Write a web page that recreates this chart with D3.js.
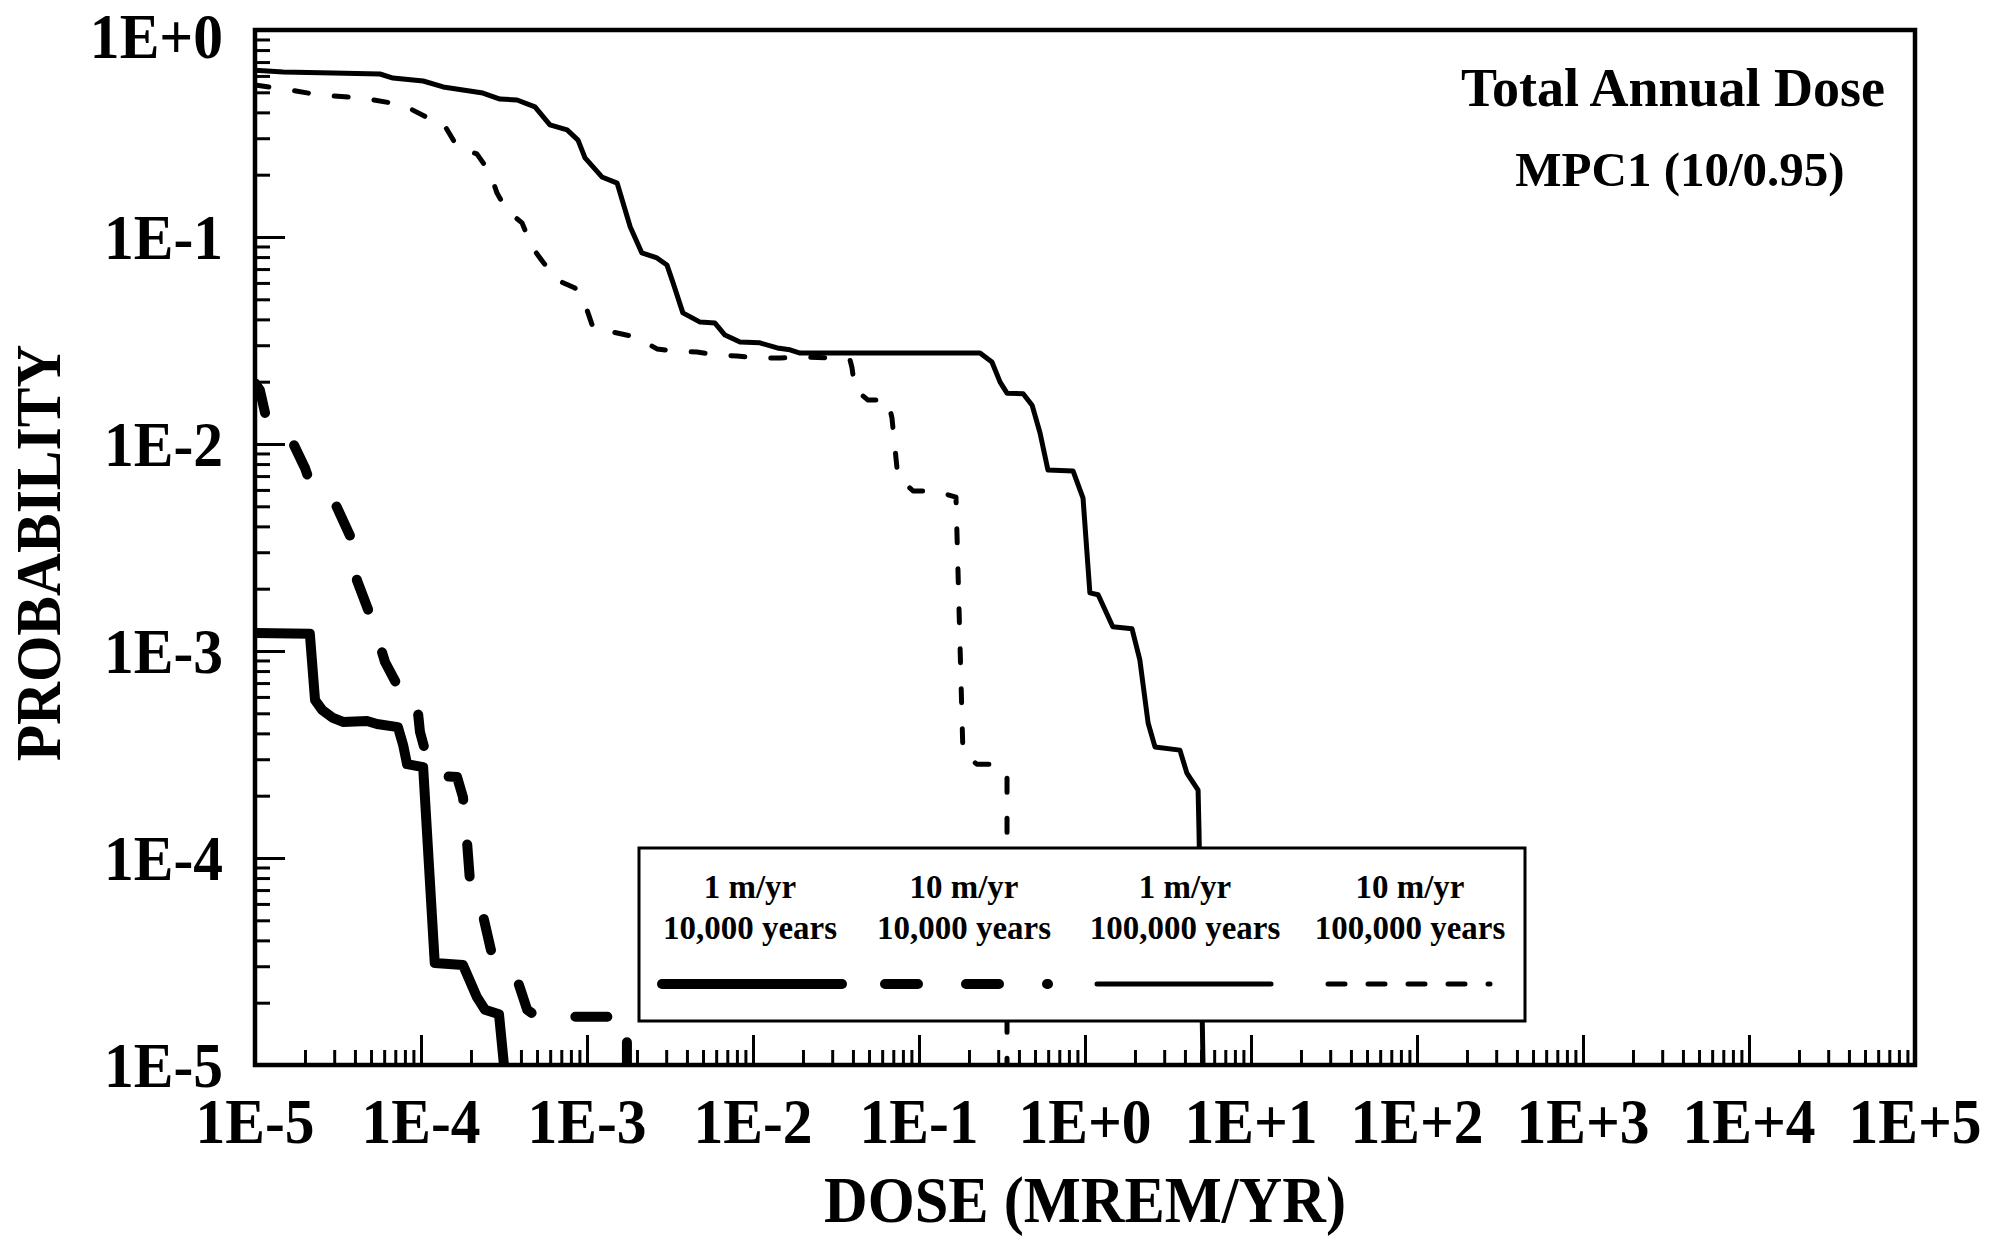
<!DOCTYPE html>
<html><head><meta charset="utf-8">
<script src="https://cdn.jsdelivr.net/npm/d3@7"></script>
<style>html,body{margin:0;padding:0;background:#fff;} svg{display:block;}</style>
</head><body>
<svg id="c" width="2007" height="1239"></svg>
<script>
// ---- data ----
const xTickValues = [1e-5, 1e-4, 1e-3, 1e-2, 1e-1, 1e0, 1e1, 1e2, 1e3, 1e4, 1e5];
const xTickLabels = ["1E-5", "1E-4", "1E-3", "1E-2", "1E-1", "1E+0", "1E+1", "1E+2", "1E+3", "1E+4", "1E+5"];
const yTickValues = [1e-5, 1e-4, 1e-3, 1e-2, 1e-1, 1e0];
const yTickLabels = ["1E-5", "1E-4", "1E-3", "1E-2", "1E-1", "1E+0"];

const seriesNames = ["1 m/yr|10,000 years", "10 m/yr|10,000 years", "1 m/yr|100,000 years", "10 m/yr|100,000 years"];

// 1 m/yr, 10,000 years (thick solid)  [dose, probability]
const thickSolid = [
  [1.0e-5, 1.22e-3], [2.14e-5, 1.21e-3], [2.30e-5, 5.79e-4], [2.54e-5, 5.19e-4], [2.95e-5, 4.75e-4],
  [3.39e-5, 4.54e-4], [4.73e-5, 4.59e-4], [5.43e-5, 4.44e-4], [7.26e-5, 4.29e-4], [7.80e-5, 3.52e-4],
  [8.24e-5, 2.84e-4], [1.03e-4, 2.75e-4], [1.21e-4, 3.11e-5], [1.79e-4, 3.04e-5], [2.17e-4, 2.13e-5],
  [2.43e-4, 1.85e-5], [2.95e-4, 1.76e-5], [3.16e-4, 1.0e-5]
];
// 10 m/yr, 10,000 years (thick dashed)
const thickDashed = [
  [1.0e-5, 0.0197], [1.07e-5, 0.0182], [1.15e-5, 0.0141], [1.28e-5, 0.0134], [1.52e-5, 0.0121],
  [2.0e-5, 0.00766], [2.14e-5, 0.00655], [2.36e-5, 0.00633], [2.72e-5, 0.00567], [3.03e-5, 0.00519],
  [3.89e-5, 0.00336], [4.11e-5, 0.00220], [5.14e-5, 0.00137], [6.07e-5, 0.000885], [8.02e-5, 0.000580],
  [9.46e-5, 0.000561], [9.86e-5, 0.000406], [1.13e-4, 0.000272], [1.26e-4, 0.000249], [1.65e-4, 0.000246],
  [1.79e-4, 0.000197], [1.89e-4, 0.000122], [1.97e-4, 7.83e-5], [2.36e-4, 5.31e-5], [2.68e-4, 3.40e-5],
  [3.84e-4, 2.52e-5], [4.36e-4, 1.85e-5], [5.0e-4, 1.71e-5], [1.74e-3, 1.71e-5], [1.74e-3, 1.0e-5]
];
// 1 m/yr, 100,000 years (thin solid)
const thinSolid = [
  [1.0e-5, 0.64], [1.48e-5, 0.627], [2.95e-5, 0.620], [5.66e-5, 0.613], [6.78e-5, 0.586],
  [1.03e-4, 0.567], [1.36e-4, 0.531], [2.36e-4, 0.496], [2.99e-4, 0.464], [3.79e-4, 0.459],
  [4.86e-4, 0.425], [5.98e-4, 0.348], [7.59e-4, 0.329], [8.83e-4, 0.294], [9.73e-4, 0.241],
  [1.23e-3, 0.195], [1.52e-3, 0.182], [1.82e-3, 0.112], [2.14e-3, 0.0837], [2.64e-3, 0.0792],
  [3.03e-3, 0.0733], [3.30e-3, 0.060], [3.78e-3, 0.043], [4.80e-3, 0.0388], [5.90e-3, 0.0384],
  [6.78e-3, 0.0336], [8.35e-3, 0.0311], [1.10e-2, 0.0308], [1.40e-2, 0.0291], [1.67e-2, 0.0285],
  [1.92e-2, 0.0275], [0.233, 0.0275], [0.275, 0.0249], [0.308, 0.0199], [0.339, 0.0176],
  [0.424, 0.0175], [0.480, 0.0154], [0.536, 0.0113], [0.598, 0.00748], [0.847, 0.00741],
  [0.973, 0.00548], [1.07, 0.00191], [1.20, 0.00187], [1.47, 0.00131], [1.92, 0.00128],
  [2.14, 0.000905], [2.40, 0.000449], [2.64, 0.000344], [3.73, 0.000332], [4.11, 0.000257],
  [4.80, 0.000213], [4.86, 0.000137], [5.14, 1.0e-5]
];
// 10 m/yr, 100,000 years (thin dashed)
const thinDashed = [
  [1.0e-5, 0.542], [1.48e-5, 0.519], [2.47e-5, 0.485], [4.48e-5, 0.469], [7.80e-5, 0.434],
  [1.13e-4, 0.372], [1.36e-4, 0.355], [1.67e-4, 0.269], [2.17e-4, 0.252], [2.61e-4, 0.204],
  [2.87e-4, 0.163], [3.30e-4, 0.134], [4.06e-4, 0.117], [4.66e-4, 0.0895], [5.43e-4, 0.0757],
  [6.59e-4, 0.0620], [8.47e-4, 0.0567], [1.0e-3, 0.0444], [1.09e-3, 0.0363], [1.52e-3, 0.0344],
  [1.95e-3, 0.0329], [2.64e-3, 0.0288], [3.39e-3, 0.0281], [4.60e-3, 0.0278], [6.07e-3, 0.0269],
  [8.02e-3, 0.0266], [1.07e-2, 0.0260], [1.46e-2, 0.0260], [1.92e-2, 0.0263], [3.34e-2, 0.0260],
  [3.84e-2, 0.0255], [3.95e-2, 0.0233], [4.11e-2, 0.0184], [4.93e-2, 0.0163], [6.50e-2, 0.0163],
  [6.87e-2, 0.0134], [7.46e-2, 0.00693], [9.21e-2, 0.00593], [0.125, 0.00593], [0.167, 0.00554],
  [0.184, 0.000322], [0.223, 0.000284], [0.291, 0.000284], [0.339, 0.000252], [0.339, 1.0e-5]
];

const titleText = "Total Annual Dose";
const subtitleText = "MPC1 (10/0.95)";
const xTitle = "DOSE (MREM/YR)";
const yTitle = "PROBABILITY";

// ---- drawing ----
const svg = d3.select("#c");
const L = 255, R = 1915, T = 30, B = 1065;
const x = d3.scaleLog().domain([1e-5, 1e5]).range([L, R]);
const y = d3.scaleLog().domain([1e-5, 1]).range([B, T]);
const FONT = "'Liberation Serif', 'Times New Roman', serif";

svg.append("rect").attr("width", 2007).attr("height", 1239).attr("fill", "#fff");

function txt(xp, yp, s, size, sx, anchor, rot) {
  svg.append("text")
    .attr("transform", `translate(${xp},${yp}) rotate(${rot || 0}) scale(${sx},1)`)
    .attr("text-anchor", anchor)
    .attr("font-family", FONT).attr("font-weight", "bold").attr("font-size", size)
    .attr("fill", "#000").text(s);
}

// minor tick values
function minors(lo, hi) {
  const out = [];
  for (let k = lo; k < hi; k++) for (let m = 2; m <= 9; m++) out.push(m * Math.pow(10, k));
  return out;
}
const xMinor = minors(-5, 5), yMinor = minors(-5, 0);

function styleAxis(g) {
  g.select(".domain").remove();
  g.selectAll(".tick line").attr("stroke", "#000").attr("stroke-width", 3);
  g.selectAll(".tick text").remove();
}
svg.append("g").attr("transform", `translate(0,${B})`)
  .call(d3.axisBottom(x).tickValues(xTickValues).tickSize(-30).tickFormat("")).call(styleAxis);
svg.append("g").attr("transform", `translate(0,${B})`)
  .call(d3.axisBottom(x).tickValues(xMinor).tickSize(-15).tickFormat("")).call(styleAxis);
svg.append("g").attr("transform", `translate(${L},0)`)
  .call(d3.axisLeft(y).tickValues(yTickValues).tickSize(-30).tickFormat("")).call(styleAxis);
svg.append("g").attr("transform", `translate(${L},0)`)
  .call(d3.axisLeft(y).tickValues(yMinor).tickSize(-15).tickFormat("")).call(styleAxis);

// clip
svg.append("clipPath").attr("id", "clip").append("rect")
  .attr("x", L).attr("y", T).attr("width", R - L).attr("height", B - T);

const line = d3.line().x(d => x(d[0])).y(d => y(d[1]));
const styles = [
  { data: thickSolid, w: 10, dash: null },
  { data: thickDashed, w: 10, dash: "32,45" },
  { data: thinSolid, w: 5, dash: null },
  { data: thinDashed, w: 5, dash: "14,26" }
];
const gLines = svg.append("g").attr("clip-path", "url(#clip)");
styles.forEach(s => {
  gLines.append("path").datum(s.data).attr("d", line)
    .attr("fill", "none").attr("stroke", "#000").attr("stroke-width", s.w)
    .attr("stroke-linecap", "round").attr("stroke-linejoin", "round")
    .attr("stroke-dasharray", s.dash);
});

// legend
const lg = { x0: 639, x1: 1525, y0: 848, y1: 1021 };
svg.append("rect").attr("x", lg.x0).attr("y", lg.y0)
  .attr("width", lg.x1 - lg.x0).attr("height", lg.y1 - lg.y0)
  .attr("fill", "#fff").attr("stroke", "#000").attr("stroke-width", 3);
const legCenters = [750, 964, 1185, 1410];
const legLines = [[662, 842], [885, 1048], [1097, 1271], [1328, 1490]];
seriesNames.forEach((n, i) => {
  const parts = n.split("|");
  txt(legCenters[i], 898, parts[0], 34, 0.97, "middle");
  txt(legCenters[i], 939, parts[1], 34, 0.97, "middle");
  svg.append("line").attr("x1", legLines[i][0]).attr("x2", legLines[i][1])
    .attr("y1", 984).attr("y2", 984)
    .attr("stroke", "#000").attr("stroke-width", styles[i].w)
    .attr("stroke-linecap", "round")
    .attr("stroke-dasharray", i === 1 ? "33,48" : (i === 3 ? "17,23" : null));
});

// frame
svg.append("rect").attr("x", L).attr("y", T).attr("width", R - L).attr("height", B - T)
  .attr("fill", "none").attr("stroke", "#000").attr("stroke-width", 4.5);

// tick labels
xTickValues.forEach((v, i) => txt(x(v), 1143, xTickLabels[i], 64, 0.93, "middle"));
yTickValues.forEach((v, i) => txt(223, Math.max(y(v) + 22, 58), yTickLabels[i], 64, 0.93, "end"));

// titles
txt(1085, 1222, xTitle, 65, 0.93, "middle");
txt(60, 553, yTitle, 64, 0.93, "middle", -90);
txt(1673, 106, titleText, 54, 1.0, "middle");
txt(1680, 186, subtitleText, 49, 1.0, "middle");
</script>
</body></html>
